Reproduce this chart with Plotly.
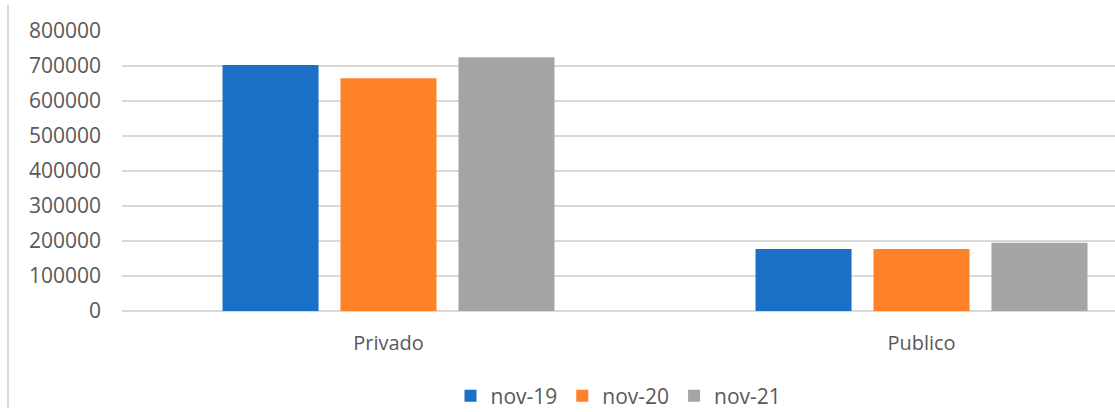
import plotly.graph_objects as go

categories = ["Privado", "Publico"]
series_names = ["nov-19", "nov-20", "nov-21"]
nov19 = [703000, 177000]
nov20 = [665000, 177000]
nov21 = [725000, 195000]
y_ticks = [0, 100000, 200000, 300000, 400000, 500000, 600000, 700000, 800000]

colors = ["#1A6FC7", "#FF8228", "#A5A5A5"]
font_family = "Open Sans"
text_color = "#595959"

fig = go.Figure()
for name, vals, col in zip(series_names, [nov19, nov20, nov21], colors):
    fig.add_trace(go.Bar(
        x=categories, y=vals, name=name,
        marker=dict(color=col, line=dict(width=0)),
    ))

fig.update_layout(
    width=1115, height=412,
    margin=dict(l=122, r=0, t=31, b=101, autoexpand=False),
    paper_bgcolor="white", plot_bgcolor="white",
    barmode="group", bargap=0.336, bargroupgap=0.186,
    font=dict(family=font_family, size=21, color=text_color),
    showlegend=True,
    legend=dict(
        orientation="h", x=0.5, xanchor="center",
        yref="container", y=1 - 396 / 412, yanchor="middle",
        font=dict(size=21, color=text_color), itemwidth=30,
        traceorder="normal",
    ),
    xaxis=dict(
        type="category", range=[-0.5, 1.363],
        showgrid=False, showline=False, zeroline=False,
        ticks="", ticklabelstandoff=18,
        tickfont=dict(size=20, color=text_color),
    ),
    yaxis=dict(
        range=[0, 800000], tickvals=y_ticks,
        ticktext=[str(v) for v in y_ticks],
        showgrid=True, gridcolor="#D9D9D9", gridwidth=1.5,
        zeroline=True, zerolinecolor="#D9D9D9", zerolinewidth=1.5,
        showline=False, ticks="", ticklabelstandoff=20,
        tickfont=dict(size=21, color=text_color),
    ),
    shapes=[dict(
        type="line", xref="paper", yref="paper",
        x0=(8 - 122) / 993, x1=(8 - 122) / 993,
        y0=(311 - 5) / 280, y1=(311 - 408) / 280,
        line=dict(color="#D9D9D9", width=2),
    )],
)

fig.write_html("out.html")
